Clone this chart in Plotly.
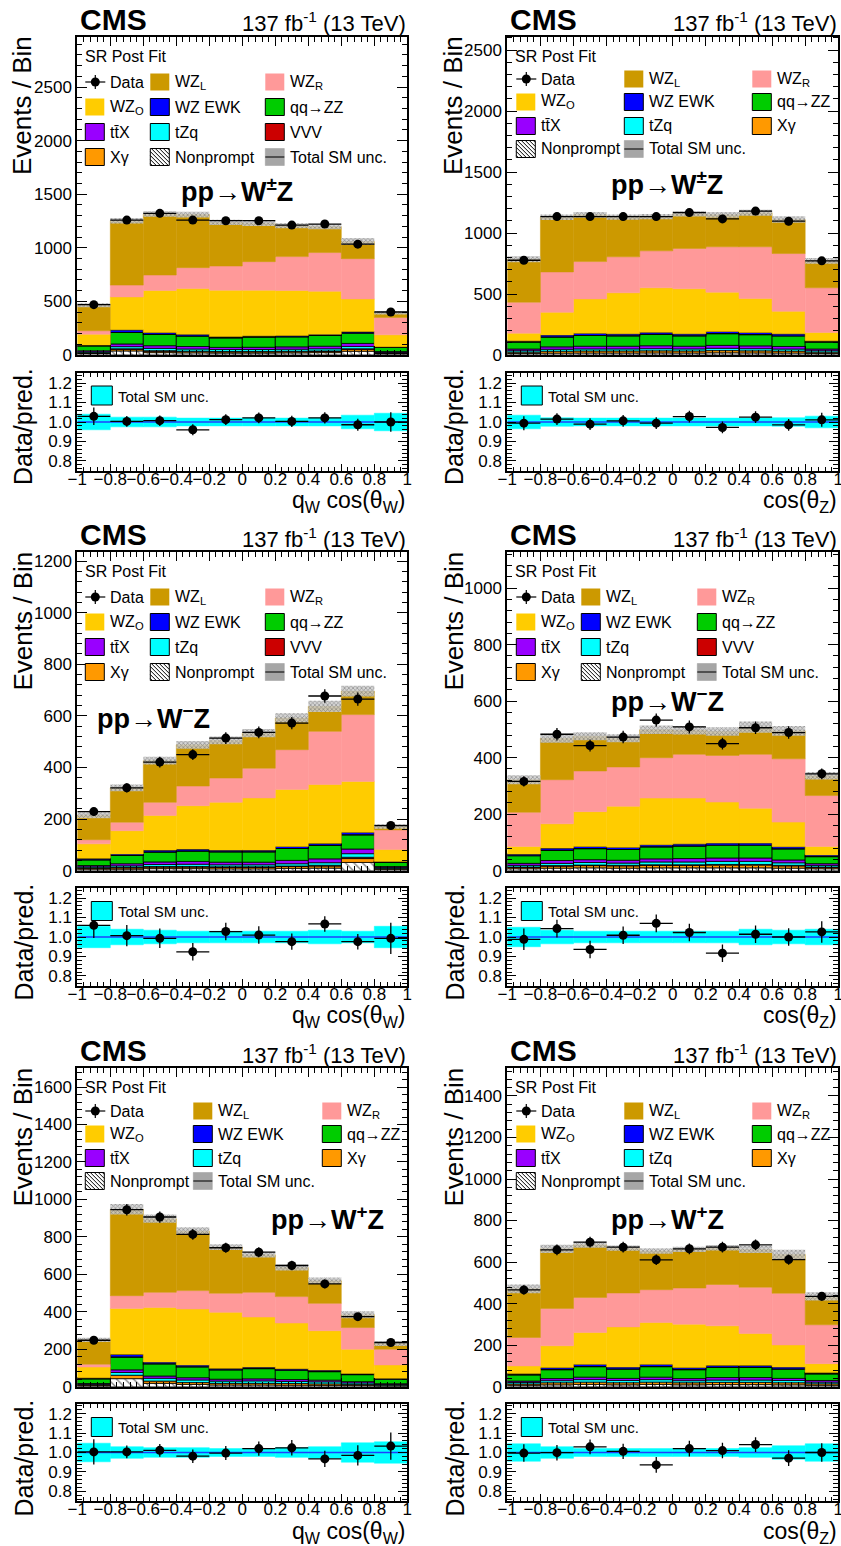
import numpy as np
import plotly.graph_objects as go

W, H = 841, 1546
FONT = "Liberation Sans"

# ---------------- shared binning / ticks ----------------
bin_centers = [-0.9, -0.7, -0.5, -0.3, -0.1, 0.1, 0.3, 0.5, 0.7, 0.9]
bin_width = 0.2
x_span = [-1.0, 1.0]
x_tick_vals = [-1, -0.8, -0.6, -0.4, -0.2, 0, 0.2, 0.4, 0.6, 0.8, 1]
x_tick_text = ["\u22121", "\u22120.8", "\u22120.6", "\u22120.4", "\u22120.2", "0",
               "0.2", "0.4", "0.6", "0.8", "1"]
ratio_tick_vals = [0.8, 0.9, 1.0, 1.1, 1.2]
ratio_tick_text = ["0.8", "0.9", "1.0", "1.1", "1.2"]
ratio_range = [0.75, 1.25]
ratio_ref = 1.0

# ---------------- top-left: pp->W±Z, qW cos(thetaW) ----------------
tl_data = [470, 1259, 1322, 1259, 1253, 1253, 1212, 1222, 1034, 401]
tl_data_err = [22, 35, 36, 35, 35, 35, 35, 35, 32, 20]
tl_nonprompt = [14, 38, 22, 20, 18, 18, 20, 22, 35, 12]
tl_xgamma = [5, 15, 13, 12, 11, 11, 11, 12, 18, 4]
tl_vvv = [2, 5, 5, 4, 4, 4, 4, 4, 5, 2]
tl_tzq = [8, 20, 22, 20, 18, 18, 19, 20, 22, 6]
tl_ttx = [10, 25, 25, 23, 20, 21, 22, 24, 28, 8]
tl_zz = [45, 107, 105, 98, 89, 95, 94, 100, 96, 38]
tl_ewk = [10, 25, 18, 17, 12, 12, 12, 12, 15, 8]
tl_wzo = [100, 307, 392, 426, 433, 426, 420, 401, 304, 110]
tl_wzr = [32, 110, 144, 195, 225, 266, 316, 361, 376, 163]
tl_wzl = [238, 601, 570, 495, 407, 357, 288, 241, 160, 44]
tl_unc = [19, 25, 26, 26, 25, 25, 24, 24, 32, 16]
tl_ratio = [1.029, 1.003, 1.007, 0.960, 1.012, 1.021, 1.003, 1.021, 0.986, 1.0]
tl_ratio_err = [0.045, 0.028, 0.027, 0.028, 0.028, 0.028, 0.029, 0.029, 0.031, 0.05]
tl_ratio_unc = [0.04, 0.025, 0.025, 0.02, 0.02, 0.02, 0.02, 0.02, 0.035, 0.045]
tl_yticks = [0, 500, 1000, 1500, 2000, 2500]

# ---------------- top-right: pp->W±Z, cos(thetaZ) ----------------
tr_data = [777, 1135, 1135, 1135, 1135, 1168, 1116, 1180, 1097, 772]
tr_data_err = [28, 34, 34, 34, 34, 34, 33, 34, 33, 28]
tr_nonprompt = [12, 15, 16, 16, 17, 16, 18, 17, 16, 12]
tr_xgamma = [11, 16, 17, 17, 17, 17, 18, 17, 16, 11]
tr_tzq = [12, 16, 17, 17, 18, 17, 19, 18, 17, 12]
tr_ttx = [14, 20, 22, 22, 24, 22, 24, 23, 21, 14]
tr_zz = [57, 80, 88, 85, 93, 85, 96, 92, 86, 57]
tr_ewk = [10, 18, 19, 17, 18, 17, 18, 18, 18, 10]
tr_wzo = [63, 185, 281, 336, 364, 369, 322, 278, 184, 69]
tr_wzr = [254, 331, 306, 295, 303, 331, 372, 424, 474, 366]
tr_wzl = [352, 449, 383, 325, 281, 284, 262, 279, 279, 221]
tr_unc = [25, 23, 23, 22, 22, 23, 23, 24, 26, 24]
tr_ratio = [0.994, 1.015, 0.989, 1.006, 0.994, 1.028, 0.972, 1.025, 0.985, 1.011]
tr_ratio_err = [0.036, 0.03, 0.03, 0.03, 0.03, 0.03, 0.03, 0.03, 0.03, 0.036]
tr_ratio_unc = [0.035, 0.022, 0.02, 0.02, 0.02, 0.02, 0.02, 0.02, 0.022, 0.03]
tr_yticks = [0, 500, 1000, 1500, 2000, 2500]

# ---------------- middle-left: pp->W-Z, qW cos(thetaW) ----------------
ml_data = [229, 321, 421, 450, 514, 536, 572, 677, 665, 175]
ml_data_err = [15, 18, 21, 21, 23, 23, 24, 26, 26, 14]
ml_nonprompt = [6, 6, 8, 8, 7, 7, 9, 10, 32, 5]
ml_xgamma = [4, 5, 6, 6, 6, 6, 7, 8, 15, 3]
ml_vvv = [1, 2, 2, 2, 2, 2, 2, 3, 5, 1]
ml_tzq = [4, 6, 8, 9, 8, 8, 9, 10, 14, 3]
ml_ttx = [5, 8, 10, 11, 10, 10, 13, 15, 18, 4]
ml_zz = [22, 32, 38, 40, 40, 40, 46, 52, 55, 16]
ml_ewk = [6, 6, 8, 8, 7, 7, 8, 8, 10, 4]
ml_wzo = [56, 90, 134, 168, 185, 202, 221, 228, 197, 46]
ml_wzr = [16, 33, 51, 76, 94, 115, 154, 206, 259, 76]
ml_wzl = [95, 133, 162, 160, 146, 136, 123, 97, 91, 14]
ml_unc = [12, 13, 15, 15, 15, 16, 18, 22, 21, 9]
ml_ratio = [1.06, 1.007, 0.993, 0.924, 1.028, 1.010, 0.976, 1.067, 0.976, 0.993]
ml_ratio_err = [0.065, 0.055, 0.05, 0.045, 0.045, 0.045, 0.042, 0.04, 0.04, 0.08]
ml_ratio_unc = [0.055, 0.04, 0.035, 0.03, 0.03, 0.03, 0.03, 0.035, 0.03, 0.055]
ml_yticks = [0, 200, 400, 600, 800, 1000, 1200]

# ---------------- middle-right: pp->W-Z, cos(thetaZ) ----------------
mr_data = [316, 483, 443, 473, 533, 509, 450, 506, 489, 343]
mr_data_err = [18, 22, 21, 22, 23, 23, 21, 22, 22, 19]
mr_nonprompt = [7, 9, 10, 9, 10, 10, 10, 10, 9, 7]
mr_xgamma = [5, 7, 8, 8, 9, 9, 10, 10, 8, 5]
mr_vvv = [1, 2, 2, 2, 2, 2, 2, 2, 2, 1]
mr_tzq = [6, 8, 9, 8, 10, 10, 11, 11, 9, 6]
mr_ttx = [7, 10, 10, 10, 11, 12, 12, 12, 10, 6]
mr_zz = [27, 36, 39, 38, 42, 44, 45, 45, 39, 25]
mr_ewk = [6, 8, 8, 8, 8, 8, 8, 8, 8, 6]
mr_wzo = [27, 86, 123, 145, 165, 162, 145, 123, 87, 30]
mr_wzr = [121, 156, 144, 139, 143, 155, 165, 191, 224, 180]
mr_wzl = [115, 147, 123, 102, 99, 85, 85, 96, 99, 70]
mr_unc = [16, 16, 14, 14, 15, 15, 15, 20, 17, 13]
mr_ratio = [0.988, 1.043, 0.936, 1.009, 1.07, 1.023, 0.917, 1.014, 1.0, 1.026]
mr_ratio_err = [0.055, 0.045, 0.045, 0.045, 0.045, 0.045, 0.045, 0.045, 0.045, 0.055]
mr_ratio_unc = [0.05, 0.035, 0.03, 0.03, 0.03, 0.03, 0.03, 0.04, 0.035, 0.04]
mr_yticks = [0, 200, 400, 600, 800, 1000]

# ---------------- bottom-left: pp->W+Z, qW cos(thetaW) ----------------
bl_data = [248, 945, 906, 813, 742, 718, 647, 549, 374, 236]
bl_data_err = [16, 31, 30, 29, 27, 27, 25, 23, 19, 15]
bl_nonprompt = [5, 43, 18, 12, 9, 9, 8, 7, 6, 4]
bl_xgamma = [4, 18, 12, 10, 9, 9, 9, 8, 6, 4]
bl_tzq = [4, 15, 15, 14, 12, 13, 11, 11, 8, 4]
bl_ttx = [4, 14, 12, 12, 10, 11, 10, 9, 7, 4]
bl_zz = [25, 68, 65, 58, 50, 55, 50, 46, 38, 24]
bl_ewk = [6, 15, 10, 10, 8, 8, 8, 8, 6, 5]
bl_wzo = [57, 245, 291, 299, 299, 267, 244, 210, 129, 71]
bl_wzr = [15, 68, 81, 98, 102, 132, 141, 146, 116, 84]
bl_wzl = [130, 461, 393, 318, 246, 200, 155, 121, 68, 30]
bl_unc = [12, 28, 22, 21, 15, 14, 16, 17, 19, 13]
bl_ratio = [1.003, 1.003, 1.011, 0.981, 0.997, 1.020, 1.024, 0.967, 0.985, 1.033]
bl_ratio_err = [0.065, 0.033, 0.033, 0.035, 0.036, 0.037, 0.04, 0.042, 0.052, 0.07]
bl_ratio_unc = [0.048, 0.03, 0.025, 0.025, 0.02, 0.02, 0.025, 0.03, 0.05, 0.055]
bl_yticks = [0, 200, 400, 600, 800, 1000, 1200, 1400, 1600]

# ---------------- bottom-right: pp->W+Z, cos(thetaZ) ----------------
br_data = [466, 659, 696, 672, 611, 664, 672, 683, 612, 435]
br_data_err = [22, 26, 26, 26, 25, 26, 26, 26, 25, 21]
br_nonprompt = [7, 9, 11, 9, 11, 9, 10, 10, 9, 7]
br_xgamma = [6, 10, 11, 10, 11, 10, 11, 11, 10, 7]
br_tzq = [7, 10, 12, 11, 12, 10, 11, 11, 11, 8]
br_ttx = [7, 10, 12, 10, 12, 10, 12, 12, 10, 8]
br_zz = [30, 43, 51, 45, 51, 43, 49, 49, 45, 32]
br_ewk = [6, 10, 11, 10, 11, 10, 10, 10, 10, 6]
br_wzo = [37, 105, 153, 193, 201, 209, 190, 153, 106, 43]
br_wzr = [137, 180, 169, 163, 158, 174, 199, 223, 249, 187]
br_wzl = [234, 287, 253, 216, 186, 186, 177, 182, 187, 137]
br_unc = [21, 20, 14, 13, 13, 13, 13, 17, 22, 20]
br_ratio = [0.997, 0.999, 1.029, 1.006, 0.936, 1.020, 1.010, 1.041, 0.971, 1.0]
br_ratio_err = [0.045, 0.04, 0.038, 0.039, 0.041, 0.04, 0.04, 0.038, 0.04, 0.048]
br_ratio_unc = [0.045, 0.03, 0.02, 0.02, 0.02, 0.02, 0.02, 0.025, 0.035, 0.045]
br_yticks = [0, 200, 400, 600, 800, 1000, 1200, 1400]

# ---------------- styling ----------------
STYLE = {
    "np":  dict(color="white",   lw=0.8),
    "xg":  dict(color="#ff9900", lw=0.8),
    "vvv": dict(color="#cc0000", lw=0.8),
    "tzq": dict(color="#00ffff", lw=0.8),
    "ttx": dict(color="#9900ff", lw=0.8),
    "zz":  dict(color="#00cc00", lw=0.8),
    "ewk": dict(color="#0000ff", lw=1.2),
    "wzo": dict(color="#ffcc00", lw=0),
    "wzr": dict(color="#ff9999", lw=0),
    "wzl": dict(color="#cc9900", lw=0),
}
LABELS = {
    "data": "Data", "wzl": "WZ<sub>L</sub>", "wzr": "WZ<sub>R</sub>", "wzo": "WZ<sub>O</sub>",
    "ewk": "WZ EWK", "zz": "qq\u2192ZZ", "ttx": "tt\u0304X", "tzq": "tZq", "vvv": "VVV",
    "xg": "X\u03b3", "np": "Nonprompt", "unc": "Total SM unc.",
}

XT_W = "q<sub>W</sub> cos(\u03b8<sub>W</sub>)"
XT_Z = "cos(\u03b8<sub>Z</sub>)"

col_bounds = [(77.3, 407.3), (507.3, 838.3)]
row_main = [(36.7, 355.0), (552.3, 870.7), (1068.3, 1386.7)]
row_ratio = [(373.3, 470.7), (888.3, 985.7), (1404.0, 1501.0)]
row_off = [0.0, 515.5, 1031.5]

panels = [
    dict(col=0, row=0, comps=[("np", tl_nonprompt), ("xg", tl_xgamma), ("vvv", tl_vvv), ("tzq", tl_tzq),
                              ("ttx", tl_ttx), ("zz", tl_zz), ("ewk", tl_ewk), ("wzo", tl_wzo),
                              ("wzr", tl_wzr), ("wzl", tl_wzl)],
         data=tl_data, err=tl_data_err, unc=tl_unc, ratio=tl_ratio, rerr=tl_ratio_err, runc=tl_ratio_unc,
         ymax=2970, yticks=tl_yticks, yminor=100, label="pp\u2192W<sup>\u00b1</sup>Z", lpos=(237, 190),
         xtitle=XT_W, lrows=[82, 107, 132, 157], lcols=[8, 73, 188],
         lorder=["data", "wzl", "wzr", "wzo", "ewk", "zz", "ttx", "tzq", "vvv", "xg", "np", "unc"]),
    dict(col=1, row=0, comps=[("np", tr_nonprompt), ("xg", tr_xgamma), ("tzq", tr_tzq),
                              ("ttx", tr_ttx), ("zz", tr_zz), ("ewk", tr_ewk), ("wzo", tr_wzo),
                              ("wzr", tr_wzr), ("wzl", tr_wzl)],
         data=tr_data, err=tr_data_err, unc=tr_unc, ratio=tr_ratio, rerr=tr_ratio_err, runc=tr_ratio_unc,
         ymax=2610, yticks=tr_yticks, yminor=100, label="pp\u2192W<sup>\u00b1</sup>Z", lpos=(667, 183),
         xtitle=XT_Z, lrows=[79, 102, 126, 149], lcols=[9, 117, 245],
         lorder=["data", "wzl", "wzr", "wzo", "ewk", "zz", "ttx", "tzq", "xg", "np", "unc"]),
    dict(col=0, row=1, comps=[("np", ml_nonprompt), ("xg", ml_xgamma), ("vvv", ml_vvv), ("tzq", ml_tzq),
                              ("ttx", ml_ttx), ("zz", ml_zz), ("ewk", ml_ewk), ("wzo", ml_wzo),
                              ("wzr", ml_wzr), ("wzl", ml_wzl)],
         data=ml_data, err=ml_data_err, unc=ml_unc, ratio=ml_ratio, rerr=ml_ratio_err, runc=ml_ratio_unc,
         ymax=1234, yticks=ml_yticks, yminor=40, label="pp\u2192W<sup>\u2212</sup>Z", lpos=(153, 717),
         xtitle=XT_W, lrows=[81.5, 106.5, 131.5, 156.5], lcols=[8, 73, 188],
         lorder=["data", "wzl", "wzr", "wzo", "ewk", "zz", "ttx", "tzq", "vvv", "xg", "np", "unc"]),
    dict(col=1, row=1, comps=[("np", mr_nonprompt), ("xg", mr_xgamma), ("vvv", mr_vvv), ("tzq", mr_tzq),
                              ("ttx", mr_ttx), ("zz", mr_zz), ("ewk", mr_ewk), ("wzo", mr_wzo),
                              ("wzr", mr_wzr), ("wzl", mr_wzl)],
         data=mr_data, err=mr_data_err, unc=mr_unc, ratio=mr_ratio, rerr=mr_ratio_err, runc=mr_ratio_unc,
         ymax=1127, yticks=mr_yticks, yminor=40, label="pp\u2192W<sup>\u2212</sup>Z", lpos=(667, 700),
         xtitle=XT_Z, lrows=[81.5, 106.5, 131.5, 156.5], lcols=[9, 74, 190],
         lorder=["data", "wzl", "wzr", "wzo", "ewk", "zz", "ttx", "tzq", "vvv", "xg", "np", "unc"]),
    dict(col=0, row=2, comps=[("np", bl_nonprompt), ("xg", bl_xgamma), ("tzq", bl_tzq),
                              ("ttx", bl_ttx), ("zz", bl_zz), ("ewk", bl_ewk), ("wzo", bl_wzo),
                              ("wzr", bl_wzr), ("wzl", bl_wzl)],
         data=bl_data, err=bl_data_err, unc=bl_unc, ratio=bl_ratio, rerr=bl_ratio_err, runc=bl_ratio_unc,
         ymax=1700, yticks=bl_yticks, yminor=40, label="pp\u2192W<sup>+</sup>Z", lpos=(327, 1218),
         xtitle=XT_W, lrows=[79.5, 102.5, 126.5, 149.5], lcols=[8, 116, 245],
         lorder=["data", "wzl", "wzr", "wzo", "ewk", "zz", "ttx", "tzq", "xg", "np", "unc"]),
    dict(col=1, row=2, comps=[("np", br_nonprompt), ("xg", br_xgamma), ("tzq", br_tzq),
                              ("ttx", br_ttx), ("zz", br_zz), ("ewk", br_ewk), ("wzo", br_wzo),
                              ("wzr", br_wzr), ("wzl", br_wzl)],
         data=br_data, err=br_data_err, unc=br_unc, ratio=br_ratio, rerr=br_ratio_err, runc=br_ratio_unc,
         ymax=1533, yticks=br_yticks, yminor=40, label="pp\u2192W<sup>+</sup>Z", lpos=(667, 1218),
         xtitle=XT_Z, lrows=[79.5, 102.5, 126.5, 149.5], lcols=[9, 117, 245],
         lorder=["data", "wzl", "wzr", "wzo", "ewk", "zz", "ttx", "tzq", "xg", "np", "unc"]),
]


def PX(x):
    return x / W


def PY(y):
    return 1 - y / H


def axn(n):
    return "" if n == 1 else str(n)


fig = go.Figure()
layout = {}
shapes = []
annots = []


def ann(x, y, text, size, xanchor="left", yanchor="middle", angle=0):
    annots.append(dict(x=PX(x), y=PY(y), xref="paper", yref="paper", text=text, showarrow=False,
                       xanchor=xanchor, yanchor=yanchor, textangle=angle,
                       font=dict(family=FONT, size=size, color="black")))


def rect(x0, y0, x1, y1, fill, lc=None, lw=0):
    shapes.append(dict(type="rect", xref="paper", yref="paper", x0=PX(x0), x1=PX(x1), y0=PY(y1), y1=PY(y0),
                       fillcolor=fill, line=dict(color=lc or fill, width=lw)))


def seg(x0, y0, x1, y1, color="black", width=1):
    shapes.append(dict(type="line", xref="paper", yref="paper", x0=PX(x0), x1=PX(x1), y0=PY(y0), y1=PY(y1),
                       line=dict(color=color, width=width)))


def legend_entry(key, xs, yc):
    sw, sh = 19, 17
    x0, x1, y0, y1 = xs, xs + sw, yc - sh / 2, yc + sh / 2
    if key == "data":
        seg(x0, yc, x0 + 20, yc, width=1.2)
        seg(x0 + 10, yc - 7, x0 + 10, yc + 7, width=1.2)
        shapes.append(dict(type="circle", xref="paper", yref="paper", x0=PX(x0 + 5.5), x1=PX(x0 + 14.5),
                           y0=PY(yc + 4.5), y1=PY(yc - 4.5), fillcolor="black", line=dict(color="black", width=0)))
    elif key == "unc":
        rect(x0, y0, x1, y1, "#a6a6a6", "#9a9a9a", 0.5)
        seg(x0, yc, x1, yc, color="#333333", width=1.5)
    elif key == "np":
        rect(x0, y0, x1, y1, "white", "black", 1)
        for c in range(-sh + 2, sw, 4):
            ys = max(0, -c)
            ye = min(sh, sw - c)
            if ye > ys:
                seg(x0 + ys + c, y0 + ys, x0 + ye + c, y0 + ye, width=1)
    else:
        st = STYLE[key]
        if st["lw"] > 0:
            rect(x0, y0, x1, y1, st["color"], "black", 1)
        else:
            rect(x0, y0, x1, y1, st["color"])
    ann(xs + 23, yc, LABELS[key], 16)


for i, p in enumerate(panels):
    mi, ri = 2 * i + 1, 2 * i + 2
    xm, ym, xr, yr = "x" + axn(mi), "y" + axn(mi), "x" + axn(ri), "y" + axn(ri)
    cx0, cx1 = col_bounds[p["col"]]
    mt, mb = row_main[p["row"]]
    rt, rb = row_ratio[p["row"]]
    off = row_off[p["row"]]

    # ---- stacked histogram ----
    base = np.zeros(len(bin_centers))
    for key, vals in p["comps"]:
        vals = np.array(vals, dtype=float)
        st = STYLE[key]
        if key == "np":
            marker = dict(color="white", line=dict(color="black", width=st["lw"]),
                          pattern=dict(shape="\\", fgcolor="black", bgcolor="white", size=6, solidity=0.22))
        elif st["lw"] > 0:
            marker = dict(color=st["color"], line=dict(color="black", width=st["lw"]))
        else:
            marker = dict(color=st["color"], line=dict(color=st["color"], width=0.5))
        fig.add_trace(go.Bar(x=bin_centers, y=vals, base=base.copy(), width=bin_width, marker=marker,
                             xaxis=xm, yaxis=ym, showlegend=False, hoverinfo="skip"))
        base += vals
    total = base.copy()
    unc = np.array(p["unc"], dtype=float)
    fig.add_trace(go.Bar(x=bin_centers, y=2 * unc, base=total - unc, width=bin_width,
                         marker=dict(color="rgba(0,0,0,0)", line=dict(width=0),
                                     pattern=dict(shape="x", fgcolor="#5a5a5a", bgcolor="rgba(205,205,205,0.85)",
                                                  size=3, solidity=0.45)),
                         xaxis=xm, yaxis=ym, showlegend=False, hoverinfo="skip"))
    fig.add_trace(go.Scatter(x=bin_centers, y=p["data"], mode="markers",
                             marker=dict(color="black", size=9),
                             error_y=dict(type="data", array=p["err"], color="black", thickness=1.3, width=0),
                             error_x=dict(type="constant", value=bin_width / 2, color="black", thickness=1.3, width=0),
                             xaxis=xm, yaxis=ym, showlegend=False))

    # ---- ratio ----
    runc = np.array(p["runc"], dtype=float)
    fig.add_trace(go.Bar(x=bin_centers, y=2 * runc, base=ratio_ref - runc, width=bin_width,
                         marker=dict(color="#00ffff", line=dict(color="#00ffff", width=0.5)),
                         xaxis=xr, yaxis=yr, showlegend=False, hoverinfo="skip"))
    fig.add_trace(go.Scatter(x=x_span, y=[ratio_ref, ratio_ref], mode="lines",
                             line=dict(color="#1f3fff", width=1.5), xaxis=xr, yaxis=yr, showlegend=False))
    fig.add_trace(go.Scatter(x=bin_centers, y=p["ratio"], mode="markers",
                             marker=dict(color="black", size=9),
                             error_y=dict(type="data", array=p["rerr"], color="black", thickness=1.3, width=0),
                             error_x=dict(type="constant", value=bin_width / 2, color="black", thickness=1.3, width=0),
                             xaxis=xr, yaxis=yr, showlegend=False))

    common = dict(showgrid=False, zeroline=False, showline=True, linecolor="black", linewidth=2,
                  ticks="inside", tickcolor="black", tickwidth=1, mirror="allticks", automargin=False,
                  tickangle=0, tickfont=dict(family=FONT, size=17, color="black"))
    layout["xaxis" + axn(mi)] = dict(common, domain=[PX(cx0), PX(cx1)], anchor=ym, range=x_span,
                                     tickvals=x_tick_vals, ticktext=x_tick_text, showticklabels=False, ticklen=9,
                                     minor=dict(dtick=0.04, tick0=-1, ticks="inside", ticklen=5, tickcolor="black",
                                                showgrid=False))
    layout["yaxis" + axn(mi)] = dict(common, domain=[PY(mb), PY(mt)], anchor=xm, range=[0, p["ymax"]],
                                     tickvals=p["yticks"], ticktext=[str(v) for v in p["yticks"]], ticklen=10,
                                     minor=dict(dtick=p["yminor"], tick0=0, ticks="inside", ticklen=5,
                                                tickcolor="black", showgrid=False))
    layout["xaxis" + axn(ri)] = dict(common, domain=[PX(cx0), PX(cx1)], anchor=yr, range=x_span,
                                     tickvals=x_tick_vals, ticktext=x_tick_text, ticklen=7,
                                     ticklabelstandoff=-8, ticklabeloverflow="allow",
                                     minor=dict(dtick=0.04, tick0=-1, ticks="inside", ticklen=4, tickcolor="black",
                                                showgrid=False))
    layout["yaxis" + axn(ri)] = dict(common, domain=[PY(rb), PY(rt)], anchor=xr, range=ratio_range,
                                     tickvals=ratio_tick_vals, ticktext=ratio_tick_text, ticklen=9,
                                     minor=dict(dtick=0.02, tick0=0.8, ticks="inside", ticklen=5,
                                                tickcolor="black", showgrid=False))

    # ---- texts ----
    ann(cx0 + 1, off + 19, "<b>CMS</b>", 30)
    ann(cx1 + 1, off + 22, "137 fb<sup>-1</sup> (13 TeV)", 22, xanchor="right")
    ytx = 22 if p["col"] == 0 else 453
    ann(ytx, off + 106, "Events / Bin", 26, xanchor="center", angle=-90)
    ann(ytx + 1, off + 427, "Data/pred.", 25, xanchor="center", angle=-90)
    ann(cx1 + 1, off + 501, p["xtitle"], 23, xanchor="right")
    ann(cx0 + 6, off + 56, "SR Post Fit", 16)
    ann(p["lpos"][0], p["lpos"][1], "<b>" + p["label"] + "</b>", 27, xanchor="center")

    for k, key in enumerate(p["lorder"]):
        r, c = divmod(k, 3)
        legend_entry(key, cx0 + p["lcols"][c], off + p["lrows"][r])

    # ratio legend
    rect(cx0 + 14, off + 386, cx0 + 35, off + 405, "#00ffff", "black", 1)
    ann(cx0 + 39, off + 396, "Total SM unc.", 15)

fig.update_layout(**layout)
fig.update_layout(width=W, height=H, margin=dict(l=0, r=0, t=0, b=0, autoexpand=False), barmode="overlay",
                  paper_bgcolor="white", plot_bgcolor="white", showlegend=False,
                  shapes=shapes, annotations=annots, font=dict(family=FONT, color="black"))

fig.write_html("out.html", config={"displayModeBar": False},
               post_script="document.body.style.margin='0';document.body.style.overflow='hidden';")
